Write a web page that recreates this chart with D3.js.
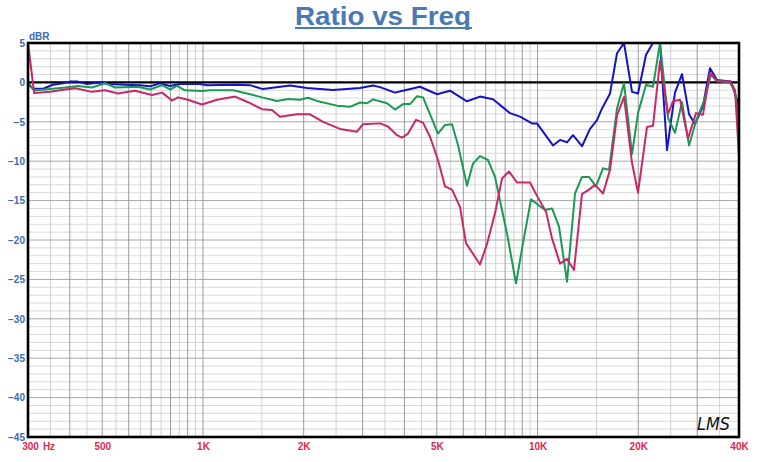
<!DOCTYPE html>
<html><head><meta charset="utf-8">
<script src="https://cdn.jsdelivr.net/npm/d3@7"></script>
<style>body{margin:0;background:#fff}svg{display:block}</style>
</head><body>
<svg id="c" width="765" height="462"></svg>
<script>
// [frequency Hz, dBR]
const blueData = [[300,-0.1],[310,-0.8],[333,-0.8],[356,-0.3],[382,-0.1],[400,0.1],[423,0.1],[450,-0.2],[492,0.0],[527,-0.2],[585,-0.3],[649,-0.35],[695,-0.5],[744,-0.1],[797,-0.45],[854,-0.2],[980,-0.2],[1028,-0.35],[1230,-0.3],[1382,-0.35],[1511,-0.85],[1820,-0.4],[2046,-0.7],[2447,-0.95],[2947,-0.7],[3223,-0.4],[3382,-0.6],[3749,-1.3],[4016,-1.0],[4453,-0.55],[5007,-1.5],[5474,-1.05],[6154,-2.4],[6730,-1.8],[7360,-2.15],[8273,-3.9],[8863,-4.35],[9626,-5.2],[9962,-5.2],[11120,-8.0],[11672,-7.3],[12247,-7.6],[12762,-6.7],[13578,-8.1],[14348,-5.9],[15055,-4.8],[15584,-3.3],[16466,-1.4],[17278,3.7],[18129,5.0],[19155,-1.2],[19965,-1.4],[21092,3.5],[22133,5.0],[23225,5.0],[24371,-8.6],[25750,-1.3],[27024,1.05],[28350,-4.0],[29547,-5.3],[31218,-3.0],[32766,1.8],[34383,0.3],[37850,0.1],[39456,-2.2],[40000,-4.3]];
const greenData = [[300,-0.3],[315,-1.0],[337,-0.9],[387,-0.65],[423,-0.45],[466,-0.65],[510,-0.1],[546,-0.65],[640,-0.55],[695,-0.9],[755,-0.35],[797,-0.9],[837,-0.45],[884,-1.0],[993,-1.1],[1050,-1.0],[1230,-1.0],[1354,-1.4],[1501,-1.9],[1665,-2.35],[1795,-2.1],[1950,-2.2],[2060,-1.95],[2192,-2.35],[2515,-2.95],[2751,-3.1],[2947,-2.55],[3092,-2.65],[3223,-2.15],[3549,-2.65],[3749,-3.45],[3962,-2.75],[4158,-2.75],[4363,-1.75],[4547,-1.9],[5040,-6.5],[5290,-5.4],[5551,-5.3],[5784,-7.95],[6154,-13.1],[6413,-10.3],[6730,-9.35],[7112,-9.85],[7462,-12.0],[8106,-19.2],[8623,-25.5],[9047,-20.4],[9560,-14.85],[10526,-16.2],[11048,-16.0],[11591,-18.3],[12247,-25.3],[12940,-14.1],[13578,-12.0],[14249,-12.0],[14951,-13.2],[15691,-10.9],[16353,-11.1],[17278,-3.3],[18129,-0.1],[19155,-9.1],[19965,-3.9],[21092,-0.3],[22133,-0.55],[23225,5.0],[24540,-4.5],[25750,-6.4],[27024,-2.5],[28355,-8.0],[29751,-4.9],[31437,-2.35],[32985,1.0],[34383,0.2],[37593,-0.05],[38916,-1.2],[40000,-5.0]];
const redData = [[300,5.0],[313,-1.35],[350,-1.2],[387,-0.9],[415,-0.75],[466,-1.2],[510,-1.0],[557,-1.4],[626,-1.05],[704,-1.6],[755,-1.3],[808,-2.3],[842,-1.9],[902,-2.2],[993,-2.8],[1102,-2.2],[1247,-1.8],[1354,-2.45],[1501,-3.4],[1608,-3.5],[1699,-4.35],[1910,-4.05],[2089,-4.05],[2285,-5.0],[2568,-5.9],[2887,-6.25],[3008,-5.3],[3382,-5.2],[3573,-5.6],[3801,-6.7],[3935,-7.0],[4101,-6.5],[4333,-4.75],[4547,-5.1],[4771,-6.9],[5040,-9.85],[5290,-13.2],[5551,-13.6],[5864,-15.8],[6111,-20.4],[6730,-23.1],[7063,-20.5],[7462,-16.6],[7831,-12.2],[8217,-11.3],[8679,-12.7],[9494,-12.7],[9962,-14.4],[10599,-16.4],[11048,-19.8],[11672,-23.0],[12247,-22.4],[12851,-23.8],[13578,-14.15],[14151,-13.7],[14849,-13.0],[15691,-14.1],[16466,-11.1],[17278,-4.2],[18129,-1.85],[19155,-10.2],[19965,-14.0],[21238,-5.65],[22133,-5.5],[23225,2.7],[24540,-4.0],[25397,-2.4],[26655,-2.2],[28161,-7.1],[29751,-3.9],[31218,-4.1],[32766,1.2],[34383,0.1],[37593,0.15],[38916,-0.95],[40000,-9.3]];

const xTickValues = [300, 500, 1000, 2000, 5000, 10000, 20000, 40000];
const xTickLabels = ["300", "500", "1K", "2K", "5K", "10K", "20K", "40K"];
const yTickValues = [5, 0, -5, -10, -15, -20, -25, -30, -35, -40, -45];

const svg = d3.select("#c");
const L = 28, R = 739, T = 43, B = 437;
const x = d3.scaleLog().domain([300, 40000]).range([L, R]);
const y = d3.scaleLinear().domain([-45, 5]).range([B, T]);
const FONT = "Liberation Sans, Arial, sans-serif";

// grid
const vMinor = [], vMajor = [];
for (let f = 350; f < 1000; f += 50) (f % 100 === 0 ? vMajor : vMinor).push(f);
for (let f = 1000; f < 10000; f += 500) (f % 1000 === 0 ? vMajor : vMinor).push(f);
for (let f = 10000; f < 40000; f += 5000) (f % 10000 === 0 ? vMajor : vMinor).push(f);
const hMinor = [], hMajor = [];
for (let v = -44; v < 5; v++) (v % 5 === 0 ? hMajor : hMinor).push(v);

const g = svg.append("g");
g.selectAll(".hm").data(hMinor).join("line")
  .attr("x1", L).attr("x2", R).attr("y1", d => y(d)).attr("y2", d => y(d))
  .attr("stroke", "#d9d9d9").attr("stroke-width", 1);
g.selectAll(".vm").data(vMinor).join("line")
  .attr("y1", T).attr("y2", B).attr("x1", d => x(d)).attr("x2", d => x(d))
  .attr("stroke", "#d0d0d0").attr("stroke-width", 1);
g.selectAll(".hM").data(hMajor).join("line")
  .attr("x1", L).attr("x2", R).attr("y1", d => y(d)).attr("y2", d => y(d))
  .attr("stroke", "#a8a8a8").attr("stroke-width", 1);
g.selectAll(".vM").data(vMajor).join("line")
  .attr("y1", T).attr("y2", B).attr("x1", d => x(d)).attr("x2", d => x(d))
  .attr("stroke", "#9a9a9a").attr("stroke-width", 1);
// zero line
svg.append("line").attr("x1", L).attr("x2", R).attr("y1", y(0)).attr("y2", y(0))
  .attr("stroke", "#000").attr("stroke-width", 2.2);

// curves
svg.append("clipPath").attr("id", "clip").append("rect")
  .attr("x", L).attr("y", T).attr("width", R - L).attr("height", B - T);
const line = d3.line().x(d => x(d[0])).y(d => y(d[1]));
const series = [[blueData, "#1414c4"], [greenData, "#1a9a55"], [redData, "#c8286a"]];
svg.append("g").attr("clip-path", "url(#clip)").selectAll("path").data(series).join("path")
  .attr("d", d => line(d[0])).attr("fill", "none").attr("stroke", d => d[1])
  .attr("stroke-width", 2).attr("stroke-linejoin", "round");

// frame
svg.append("rect").attr("x", L).attr("y", T).attr("width", R - L).attr("height", B - T)
  .attr("fill", "none").attr("stroke", "#000").attr("stroke-width", 2.6);

// y axis
const ya = svg.append("g").attr("transform", `translate(${L - 3},0)`)
  .call(d3.axisLeft(y).tickValues(yTickValues).tickSize(0).tickPadding(0).tickFormat(d3.format("d")));
ya.select(".domain").remove();
ya.selectAll("text").attr("fill", "#3a6db4").attr("font-family", FONT)
  .attr("font-size", 10).attr("font-weight", "bold");

// x axis
const xa = svg.append("g").attr("transform", `translate(0,${B + 6})`)
  .call(d3.axisBottom(x).tickValues(xTickValues).tickSize(0).tickPadding(0)
    .tickFormat((d, i) => xTickLabels[i]));
xa.select(".domain").remove();
xa.selectAll("text").attr("fill", "#e2264e").attr("font-family", FONT)
  .attr("font-size", 10).attr("font-weight", "bold");
xa.selectAll(".tick").filter(d => d === 300).select("text").attr("dx", 2);
svg.append("text").attr("x", 49).attr("y", B + 6).attr("dy", "0.71em").attr("text-anchor", "middle")
  .attr("fill", "#e2264e").attr("font-family", FONT)
  .attr("font-size", 10).attr("font-weight", "bold").text("Hz");

// dBR label
svg.append("text").attr("x", 29).attr("y", 40).attr("fill", "#3a6db4")
  .attr("font-family", FONT).attr("font-size", 10)
  .attr("font-weight", "bold").text("dBR");

// title
svg.append("text").attr("x", 383).attr("y", 25).attr("text-anchor", "middle")
  .attr("fill", "#4a7ab2").attr("font-family", "'Liberation Sans Narrow', 'Liberation Sans', Arial, sans-serif")
  .attr("font-size", 26).attr("font-weight", "bold")
  .attr("textLength", 176).attr("lengthAdjust", "spacingAndGlyphs").text("Ratio vs Freq");
svg.append("line").attr("x1", 295).attr("x2", 472).attr("y1", 28).attr("y2", 28)
  .attr("stroke", "#4a7ab2").attr("stroke-width", 2);

// LMS mark
svg.append("text").attr("x", 697).attr("y", 430)
  .attr("font-family", "DejaVu Sans, sans-serif").attr("font-size", 17)
  .attr("font-style", "italic").attr("fill", "#111").attr("font-weight", "normal")
  .attr("textLength", 33).attr("lengthAdjust", "spacingAndGlyphs").text("LMS");
</script>
</body></html>
